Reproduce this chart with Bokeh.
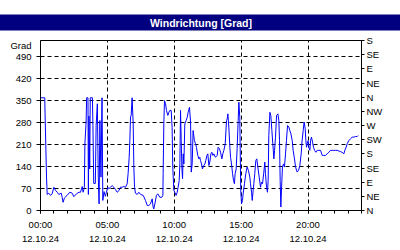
from bokeh.plotting import figure
from bokeh.models import LinearAxis, Range1d, FixedTicker, Title
from bokeh.embed import file_html
from bokeh.resources import INLINE

# ---- data (hours since 00:00 on 12.10.24, wind direction in degrees) ----
hours = [
    0, 0.32, 0.34, 0.45, 0.5, 0.62, 0.75, 0.87, 1.0, 1.12, 1.25, 1.37, 1.55, 1.62, 1.69, 1.79, 1.99,
    2.19, 2.37, 2.49, 2.69, 2.87, 2.99, 3.12, 3.19,
    3.28, 3.32, 3.41, 3.45, 3.55, 3.58, 3.62, 3.68, 3.72, 3.88, 3.92, 3.98, 4.10, 4.16, 4.25, 4.32,
    4.38, 4.44, 4.52, 4.60, 4.66, 4.75, 4.85, 4.93, 5.03,
    5.11, 5.23, 5.36, 5.48, 5.61, 5.73, 5.86, 5.98, 6.11, 6.23, 6.36, 6.48, 6.55, 6.63, 6.68, 6.73,
    6.78, 6.85, 6.93, 6.98, 7.03, 7.1, 7.23, 7.35,
    7.48, 7.68, 7.85, 7.98, 8.10, 8.22, 8.35, 8.42, 8.47, 8.55, 8.67, 8.77, 8.92, 9.07, 9.15, 9.17,
    9.22, 9.27, 9.35, 9.42, 9.52, 9.60, 9.67, 9.77, 9.84, 9.89, 9.97, 10.04, 10.14, 10.22, 10.29,
    10.37, 10.42, 10.47, 10.52, 10.57, 10.62, 10.67, 10.72, 10.79, 10.89, 10.97, 11.04, 11.14, 11.22,
    11.27, 11.34, 11.41, 11.51, 11.59, 11.66, 11.76, 11.84, 11.91, 11.96, 12.04, 12.11, 12.21, 12.29,
    12.36, 12.44, 12.51, 12.59, 12.66, 12.74, 12.81, 12.89, 12.96, 13.08, 13.21, 13.28, 13.38, 13.46,
    13.56, 13.63, 13.71, 13.81, 13.91, 13.96, 14.01, 14.08, 14.16, 14.21, 14.28, 14.36, 14.43, 14.50,
    14.55, 14.63, 14.70, 14.78, 14.83, 14.90,
    14.97, 15.03, 15.10, 15.15, 15.25, 15.35, 15.45, 15.55, 15.65, 15.70, 15.78, 15.83, 15.90, 15.95,
    16.02, 16.10, 16.17, 16.25, 16.35, 16.45, 16.52, 16.60, 16.70, 16.77, 16.82, 16.90, 16.97, 17.02,
    17.07, 17.15, 17.22, 17.30, 17.37, 17.45, 17.50, 17.57, 17.65, 17.75, 17.82, 17.87, 17.92, 17.97,
    18.02, 18.09, 18.17, 18.24, 18.32, 18.39, 18.47, 18.57, 18.64, 18.72, 18.82, 18.89, 18.99, 19.07,
    19.19, 19.29, 19.39, 19.49, 19.56, 19.64, 19.71, 19.79, 19.84, 19.89, 19.94, 20.01, 20.06, 20.14,
    20.19, 20.26, 20.34, 20.41, 20.49, 20.59, 20.69, 20.81, 20.94, 21.06, 21.18, 21.31, 21.43, 21.56,
    21.68, 21.81, 21.93, 22.06, 22.18, 22.43, 22.55, 22.68, 22.75, 22.85, 22.93, 23.05, 23.18, 23.30,
    23.43, 23.55, 23.68, 23.75,
]
degrees = [
    358, 358, 309, 106, 51, 55, 48, 53, 74, 64, 58, 51, 55, 42, 26, 40, 48,
    58, 55, 44, 53, 58, 58, 76, 58,
    74, 212, 280, 358, 358, 51, 300, 132, 358, 358, 270, 86, 86, 270, 339, 106,
    21, 286, 106, 358, 32, 60, 45, 58, 74,
    69, 74, 79, 74, 66, 58, 63, 74, 74, 76, 74, 85, 117, 169, 222, 297,
    302, 358, 275, 138, 74, 55, 51, 58,
    51, 48, 32, 16, 16, 21, 37, 11, 5, 21, 48, 53, 42, 42, 48, 117,
    275, 349, 339, 318, 302, 312, 318, 318, 264, 138, 64, 58, 48, 58, 74,
    95, 148, 318, 222, 138, 101, 180, 148, 275, 286, 296, 312, 328, 281,
    122, 148, 254, 222, 212, 201, 175, 164, 169, 159, 148, 132, 143, 148,
    159, 175, 180, 143, 154, 180, 185, 175, 180, 169, 175, 201, 196, 185,
    164, 180, 191, 212, 286, 291, 307, 265, 201, 169, 148, 117, 95, 85,
    117, 132, 196, 286, 344, 296,
    64, 21, 32, 53, 85, 117, 138, 127, 106, 85, 58, 32, 64, 85,
    117, 159, 164, 138, 106, 74, 90, 85, 122, 154, 117, 74, 58, 95,
    238, 312, 302, 254, 212, 164, 191, 233, 302, 307, 286, 222, 95, 11,
    69, 138, 148, 138, 180, 222, 270, 265, 254, 244, 222, 191, 164, 138,
    122, 127, 143, 180, 222, 254, 281, 260, 222, 201, 212, 222, 201, 191,
    222, 233, 217, 201, 191, 185, 191, 191, 191, 175, 175, 175, 180, 185,
    191, 191, 191, 191, 191, 187, 185, 180, 191, 201, 212, 222, 228, 233,
    233, 235, 235, 238,
]

title_text = "Windrichtung [Grad]"
y_unit = "Grad"
y_unit_pos = 524
y_ticks = [0, 70, 140, 210, 280, 350, 420, 490]
dir_ticks = [0, 45, 90, 135, 180, 225, 270, 315, 360, 405, 450, 495, 540]
dir_labels = ["N", "NE", "E", "SE", "S", "SW", "W", "NW", "N", "NE", "E", "SE", "S"]
x_ticks = [0, 5, 10, 15, 20]
x_labels = ["00:00\n12.10.24", "05:00\n12.10.24", "10:00\n12.10.24", "15:00\n12.10.24", "20:00\n12.10.24"]

FONT = "Liberation Sans"
NAVY = "#000080"

p = figure(width=400, height=250, x_range=Range1d(0, 24), y_range=Range1d(0, 540),
           output_backend="svg", toolbar_location=None,
           min_border_left=40, min_border_right=39, min_border_top=40, min_border_bottom=40,
           background_fill_color="white", border_fill_color="white",
           outline_line_color="black", outline_line_width=1)

p.line(hours, degrees, line_color="#0000FF", line_width=1)

# bottom axis
for ax in p.xaxis:
    ax.ticker = FixedTicker(ticks=x_ticks, minor_ticks=list(range(0, 25)))
    ax.major_label_overrides = {t: l for t, l in zip(x_ticks, x_labels)}
    ax.major_tick_out = 3
    ax.major_tick_in = 0
    ax.minor_tick_out = 3
    ax.minor_tick_in = 0
    ax.major_label_standoff = 5
    ax.major_label_text_font = FONT
    ax.major_label_text_font_size = "9.5px"
    ax.major_label_text_line_height = 1.35
    ax.major_label_text_color = "black"
    ax.axis_line_color = "black"

# left axis: tick marks drawn as minor ticks, the unit sits as an extra label
for ax in p.yaxis:
    ax.ticker = FixedTicker(ticks=y_ticks + [y_unit_pos], minor_ticks=y_ticks)
    ax.major_label_overrides = {y_unit_pos: y_unit}
    ax.major_tick_out = 0
    ax.major_tick_in = 0
    ax.minor_tick_out = 4
    ax.minor_tick_in = 0
    ax.major_label_standoff = 5
    ax.major_label_text_font = FONT
    ax.major_label_text_font_size = "9.5px"
    ax.major_label_text_color = "black"
    ax.axis_line_color = "black"

p.extra_y_ranges = {"dir": Range1d(0, 540)}
rax = LinearAxis(y_range_name="dir", ticker=FixedTicker(ticks=dir_ticks),
                 major_label_overrides={t: l for t, l in zip(dir_ticks, dir_labels)})
rax.major_tick_out = 3
rax.major_tick_in = 0
rax.minor_tick_line_color = None
rax.major_label_standoff = 2
rax.major_label_text_font = FONT
rax.major_label_text_font_size = "9.5px"
rax.major_label_text_color = "black"
rax.axis_line_color = "black"
p.add_layout(rax, "right")

# grids
p.xgrid.ticker = FixedTicker(ticks=x_ticks[1:])
p.ygrid.ticker = FixedTicker(ticks=y_ticks[1:])
for g in (p.xgrid, p.ygrid):
    g.grid_line_color = "black"
    g.grid_line_dash = "4 3"
    g.grid_line_width = 1

# title bar
main_title = Title(text=title_text, align="center", text_color="white", text_font=FONT,
                   text_font_style="bold", text_font_size="10.5px",
                   background_fill_color=NAVY,
                   padding=dict(left=170, right=170, top=2, bottom=2), standoff=20)
p.title = None
p.above = [main_title]

open("out.html", "w").write(file_html(p, INLINE))
